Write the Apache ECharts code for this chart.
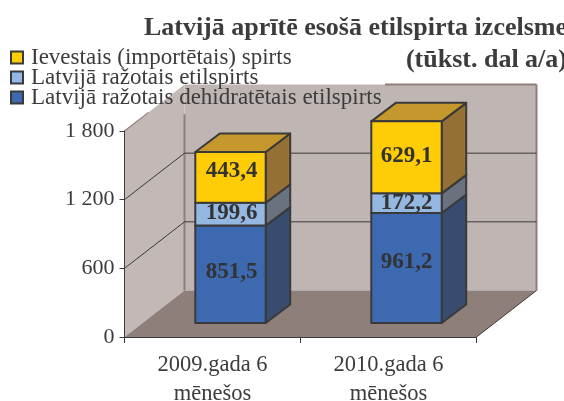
<!DOCTYPE html>
<html>
<head>
<meta charset="utf-8">
<style>html,body{margin:0;padding:0;background:#fff}#chart{width:564px;height:401px}</style>
<script src="https://cdn.jsdelivr.net/npm/echarts@6/dist/echarts.min.js"></script>
</head>
<body>
<div id="chart"></div>
<script>
var categories = ["2009.gada 6\nmēnešos", "2010.gada 6\nmēnešos"];
var dehydrated = [851.5, 961.2];
var domestic = [199.6, 172.2];
var imported = [443.4, 629.1];
var valueLabels = {
  dehydrated: ["851,5", "961,2"],
  domestic: ["199,6", "172,2"],
  imported: ["443,4", "629,1"]
};
var yTicks = [0, 600, 1200, 1800];
var yTickLabels = ["0", "600", "1 200", "1 800"];

var textColor = "#3c3c3c";
var lineColor = "#3a3a3a";
var fontName = "Liberation Serif";
// 3D look: how far the back wall sits from the front plane, in px
var depthX = 60, depthY = 46.5;

var chart = echarts.init(document.getElementById("chart"));

function poly(points, fill, stroke, width) {
  return {
    type: "polygon",
    shape: { points: points },
    style: { fill: fill, stroke: stroke || null, lineWidth: width || 0, lineJoin: "round" }
  };
}
function line(x1, y1, x2, y2, color, width) {
  return {
    type: "line",
    shape: { x1: x1, y1: y1, x2: x2, y2: y2 },
    style: { stroke: color, lineWidth: width }
  };
}

function renderWalls(params, api) {
  var sys = params.coordSys;
  var x0 = sys.x, x1 = sys.x + sys.width;
  var yBottom = api.coord([0, 0])[1], yTop = api.coord([0, 1800])[1];
  var kids = [
    poly([[x0, yBottom], [x0 + depthX, yBottom - depthY], [x0 + depthX, yTop - depthY], [x0, yTop]], "#c2b8b5"),
    poly([[x0 + depthX, yBottom - depthY], [x1 + depthX, yBottom - depthY], [x1 + depthX, yTop - depthY], [x0 + depthX, yTop - depthY]], "#bfb5b2"),
    poly([[x0, yBottom], [x1, yBottom], [x1 + depthX, yBottom - depthY], [x0 + depthX, yBottom - depthY]], "#8e7f7b"),
    line(x0, yTop, x0 + depthX * 0.4, yTop - depthY * 0.4, "#8e7f7b", 1.2),
    // the legend box hides the upper left part of these two edges in the original
    line(x0 + depthX, yBottom - depthY, x0 + depthX, api.coord([0, 1540])[1] - depthY, "#8e7f7b", 2),
    line(x0 + sys.width * 0.74, yTop - depthY, x1 + depthX, yTop - depthY, "#8e7f7b", 2),
    line(x1 + depthX, yBottom - depthY, x1 + depthX, yTop - depthY, "#8e7f7b", 2),
    line(x1, yBottom, x1 + depthX, yBottom - depthY, lineColor, 1)
  ];
  [600, 1200].forEach(function (v) {
    var y = api.coord([0, v])[1];
    kids.push(line(x0, y, x0 + depthX, y - depthY, lineColor, 1));
    kids.push(line(x0 + depthX, y - depthY, x1 + depthX, y - depthY, lineColor, 1));
  });
  return { type: "group", children: kids };
}

function barRenderer(face, side, top, labels, shifts) {
  return function (params, api) {
    var i = api.value(0);
    var base = api.coord([i, api.value(1)]);
    var peak = api.coord([i, api.value(2)]);
    var bandW = api.size([1, 0])[0];
    var w = bandW * 0.4;
    // bar sits 30% into the floor depth
    var sx = depthX * 0.3, sy = depthY * 0.3;
    var dx = 24.5, dy = 18.5;
    var l = base[0] - w / 2 + sx, r = l + w;
    var yb = base[1] - sy, yt = peak[1] - sy;
    var st = lineColor, lw = 2;
    return {
      type: "group",
      children: [
        poly([[r, yb], [r + dx, yb - dy], [r + dx, yt - dy], [r, yt]], side, st, lw),
        poly([[l, yt], [r, yt], [r + dx, yt - dy], [l + dx, yt - dy]], top, st, lw),
        poly([[l, yb], [r, yb], [r, yt], [l, yt]], face, st, lw),
        {
          type: "text",
          style: {
            x: (l + r) / 2 + shifts[i][0],
            y: (yb + yt) / 2 + shifts[i][1],
            text: labels[i],
            fill: "#333",
            font: "bold 23px '" + fontName + "'",
            align: "center",
            verticalAlign: "middle"
          }
        }
      ]
    };
  };
}

function stackData(values, below) {
  return values.map(function (v, i) {
    var b = below.reduce(function (sum, arr) { return sum + arr[i]; }, 0);
    return [i, b, b + v];
  });
}

function barSeries(name, color, side, top, values, below, labels, shifts) {
  return {
    name: name,
    type: "custom",
    clip: false,
    z: 3,
    encode: { x: 0, y: 2 },
    itemStyle: { color: color, borderColor: lineColor, borderWidth: 1.5 },
    data: stackData(values, below),
    renderItem: barRenderer(color, side, top, labels, shifts)
  };
}

chart.setOption({
  animation: false,
  backgroundColor: "#fff",
  textStyle: { fontFamily: fontName },
  title: {
    text: "Latvijā aprītē esošā etilspirta izcelsme\n(tūkst. dal a/a)",
    left: 562,
    top: 7,
    textAlign: "right",
    textStyle: { fontFamily: fontName, fontWeight: "bold", fontSize: 26, lineHeight: 32, color: textColor, align: "right" }
  },
  legend: {
    left: 10,
    top: 46,
    padding: 0,
    orient: "vertical",
    icon: "rect",
    itemWidth: 12,
    itemHeight: 12,
    itemGap: -3,
    selectedMode: false,
    data: ["Ievestais (importētais) spirts", "Latvijā ražotais etilspirts", "Latvijā ražotais dehidratētais etilspirts"],
    textStyle: { fontFamily: fontName, fontSize: 23, lineHeight: 20, color: textColor, padding: [0, 0, 0, 3] }
  },
  grid: { left: 124.5, right: 87.5, top: 131, bottom: 64, outerBoundsMode: "none" },
  xAxis: {
    type: "category",
    data: categories,
    z: 5,
    axisLine: { lineStyle: { color: lineColor, width: 1 } },
    axisTick: { show: true, length: 6, lineStyle: { color: lineColor } },
    axisLabel: { fontFamily: fontName, fontSize: 22.5, lineHeight: 29, color: textColor, margin: 14, interval: 0 }
  },
  yAxis: {
    type: "value",
    min: 0,
    max: 1800,
    interval: 600,
    z: 5,
    splitLine: { show: false },
    axisLine: { show: true, lineStyle: { color: lineColor, width: 1 } },
    axisTick: { show: true, length: 5, lineStyle: { color: lineColor } },
    axisLabel: {
      fontFamily: fontName,
      fontSize: 22,
      color: textColor,
      margin: 10,
      formatter: function (v) { return yTickLabels[yTicks.indexOf(v)]; }
    }
  },
  series: [
    {
      name: "walls",
      type: "custom",
      clip: false,
      z: 1,
      silent: true,
      data: [[0, 0]],
      renderItem: renderWalls
    },
    barSeries("Latvijā ražotais dehidratētais etilspirts", "#3d69b1", "#384c70", "#384c70", dehydrated, [], valueLabels.dehydrated, [[1, -2], [0, -6]]),
    barSeries("Latvijā ražotais etilspirts", "#95b8e3", "#6a7280", "#6a7280", domestic, [dehydrated], valueLabels.domestic, [[1, -1], [0, 0]]),
    barSeries("Ievestais (importētais) spirts", "#ffcc08", "#947035", "#c4982c", imported, [dehydrated, domestic], valueLabels.imported, [[1, -6], [0, -1]])
  ]
});
</script>
</body>
</html>
